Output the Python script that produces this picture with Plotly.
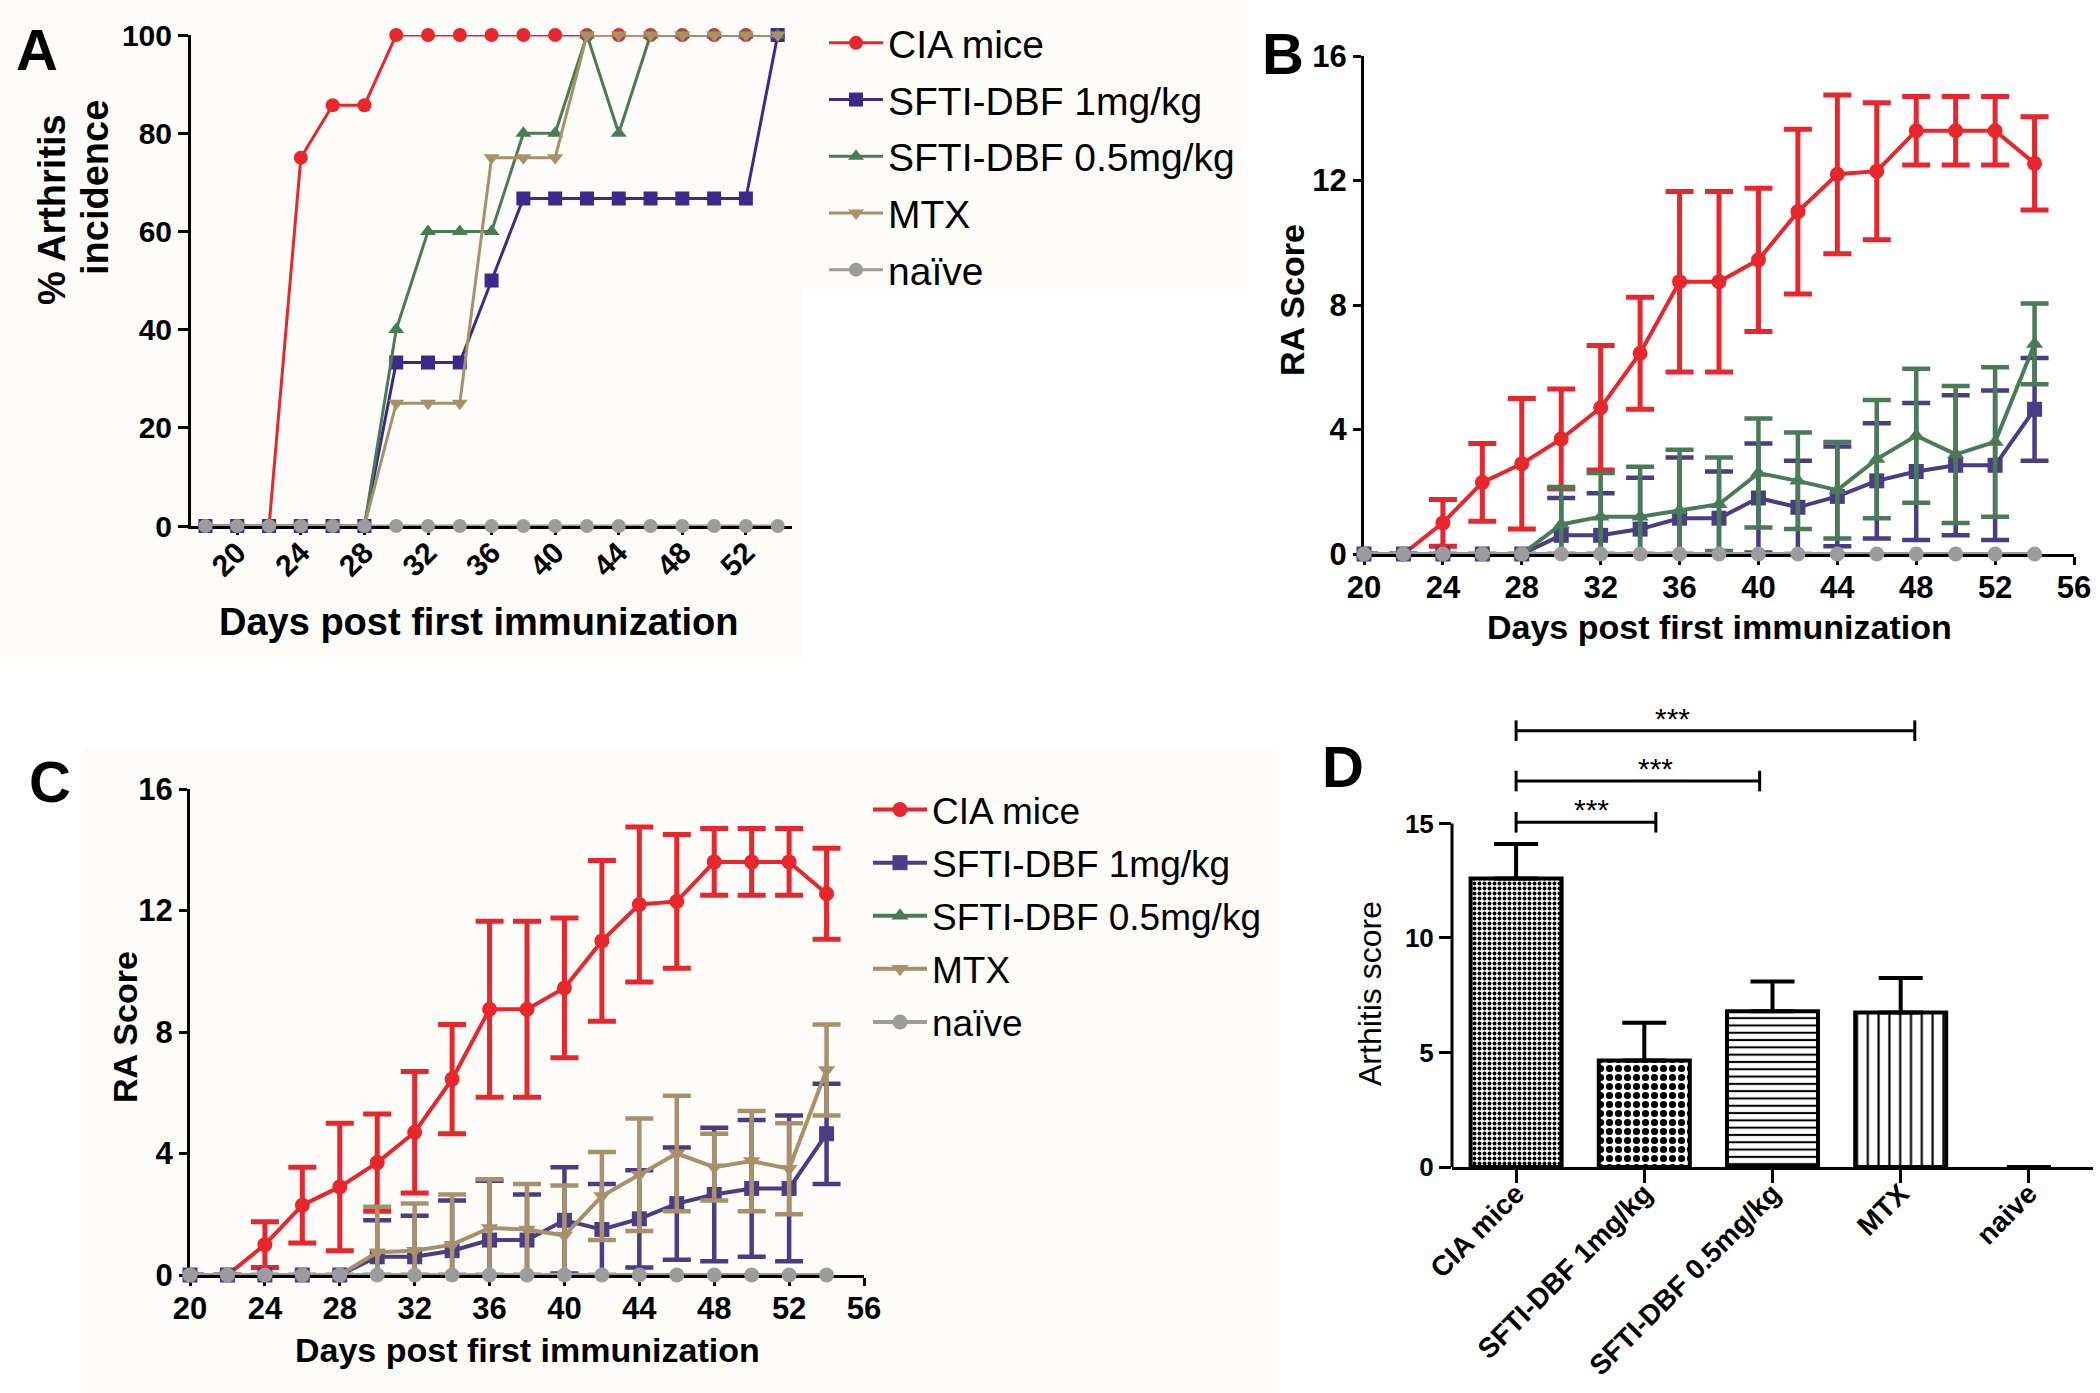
import plotly.graph_objects as go

W, H = 2100, 1393
FONT = "Liberation Sans, Arial, Helvetica, sans-serif"

# ---------------- data ----------------
groups = ["CIA mice", "SFTI-DBF 1mg/kg", "SFTI-DBF 0.5mg/kg", "MTX", "naïve"]

# Panel A: % arthritis incidence
days_a = [18, 20, 22, 24, 26, 28, 30, 32, 34, 36, 38, 40, 42, 44, 46, 48, 50, 52, 54]
inc_cia = [0, 0, 0, 75, 85.7, 85.7, 100, 100, 100, 100, 100, 100, 100, 100, 100, 100, 100, 100, 100]
inc_sfti1 = [0, 0, 0, 0, 0, 0, 33.3, 33.3, 33.3, 50, 66.7, 66.7, 66.7, 66.7, 66.7, 66.7, 66.7, 66.7, 100]
inc_sfti05 = [0, 0, 0, 0, 0, 0, 40, 60, 60, 60, 80, 80, 100, 80, 100, 100, 100, 100, 100]
inc_mtx = [0, 0, 0, 0, 0, 0, 25, 25, 25, 75, 75, 75, 100, 100, 100, 100, 100, 100, 100]
inc_naive = [0, 0, 0, 0, 0, 0, 0, 0, 0, 0, 0, 0, 0, 0, 0, 0, 0, 0, 0]
a_ticks = [20, 24, 28, 32, 36, 40, 44, 48, 52]
a_yticks = [0, 20, 40, 60, 80, 100]

# Panels B and C: RA score, mean and SEM
days_bc = [20, 22, 24, 26, 28, 30, 32, 34, 36, 38, 40, 42, 44, 46, 48, 50, 52, 54]
ra_cia = [0, 0, 1.0, 2.3, 2.9, 3.7, 4.7, 6.45, 8.75, 8.75, 9.45, 11.0, 12.2, 12.3, 13.6, 13.6, 13.6, 12.55]
sem_cia = [0, 0, 0.75, 1.25, 2.1, 1.6, 2.0, 1.8, 2.9, 2.9, 2.3, 2.65, 2.55, 2.2, 1.1, 1.1, 1.1, 1.5]
ra_sfti1 = [0, 0, 0, 0, 0, 0.6, 0.6, 0.8, 1.15, 1.15, 1.8, 1.5, 1.85, 2.35, 2.65, 2.85, 2.85, 4.65]
sem_sfti1 = [0, 0, 0, 0, 0, 1.2, 1.35, 1.65, 1.95, 1.5, 1.75, 1.5, 1.6, 1.85, 2.2, 2.25, 2.4, 1.65]
ra_sfti05 = [0, 0, 0, 0, 0, 0.95, 1.2, 1.2, 1.4, 1.6, 2.6, 2.35, 2.05, 3.05, 3.8, 3.2, 3.6, 6.75]
sem_sfti05 = [0, 0, 0, 0, 0, 1.2, 1.4, 1.6, 1.95, 1.5, 1.75, 1.55, 1.55, 1.9, 2.15, 2.2, 2.4, 1.3]
ra_mtx = [0, 0, 0, 0, 0, 0.75, 0.8, 1.0, 1.55, 1.5, 1.3, 2.6, 3.3, 4.0, 3.55, 3.75, 3.5, 6.75]
sem_mtx = [0, 0, 0, 0, 0, 1.5, 1.55, 1.65, 1.6, 1.5, 1.65, 1.45, 1.85, 1.9, 1.1, 1.65, 1.5, 1.5]
ra_naive = [0, 0, 0, 0, 0, 0, 0, 0, 0, 0, 0, 0, 0, 0, 0, 0, 0, 0]
bc_xticks = [20, 24, 28, 32, 36, 40, 44, 48, 52, 56]
bc_yticks = [0, 4, 8, 12, 16]

# Panel D: arthritis score (mean and SEM)
bar_groups = ["CIA mice", "SFTI-DBF 1mg/kg", "SFTI-DBF 0.5mg/kg", "MTX", "naive"]
bar_mean = [12.6, 4.65, 6.8, 6.75, 0]
bar_sem = [1.5, 1.65, 1.3, 1.5, 0]
d_yticks = [0, 5, 10, 15]
sig_pairs = [(0, 1, "***"), (0, 2, "***"), (0, 3, "***")]

# ---------------- styles ----------------
colors_a = ["#e8262b", "#3b2a8c", "#4a7b57", "#a8916a", "#9c9c9c"]
colors_bc = ["#e8262b", "#4a3d86", "#4a7b57", "#a8916a", "#9c9c9c"]
symbols = ["circle", "square", "triangle-up", "triangle-down", "circle"]


def px_x(v):
    return v / W


def px_y(v):
    return 1 - v / H


fig = go.Figure()

# ---- Panel A ----
inc_all = [inc_cia, inc_sfti1, inc_sfti05, inc_mtx, inc_naive]
for i, (name, yv) in enumerate(zip(groups, inc_all)):
    fig.add_trace(go.Scatter(
        x=days_a, y=yv, mode="lines+markers", name=name,
        line=dict(color=colors_a[i], width=3),
        marker=dict(symbol=symbols[i], size=14, color=colors_a[i]),
        xaxis="x", yaxis="y", legend="legend", legendgroup=f"a{i}",
        cliponaxis=False))


def err(mean, sem, thick):
    return dict(type="data", symmetric=False, array=sem,
                arrayminus=[min(m, s) for m, s in zip(mean, sem)],
                thickness=thick, width=14)


# ---- Panel B ----
b_series = [(0, ra_cia, sem_cia), (1, ra_sfti1, sem_sfti1), (2, ra_sfti05, sem_sfti05)]
for i, m, s in b_series:
    fig.add_trace(go.Scatter(
        x=days_bc, y=m, mode="lines+markers", name=groups[i],
        line=dict(color=colors_bc[i], width=4),
        marker=dict(symbol=symbols[i], size=15, color=colors_bc[i]),
        error_y=dict(err(m, s, 5 if i == 0 else 4.5), color=colors_bc[i]),
        xaxis="x2", yaxis="y2", showlegend=False, cliponaxis=False))
fig.add_trace(go.Scatter(
    x=days_bc, y=ra_naive, mode="lines+markers", name=groups[4],
    line=dict(color=colors_bc[4], width=4),
    marker=dict(symbol="circle", size=15, color=colors_bc[4]),
    xaxis="x2", yaxis="y2", showlegend=False, cliponaxis=False))

# ---- Panel C ----
c_series = [(0, ra_cia, sem_cia), (1, ra_sfti1, sem_sfti1), (2, None, None), (3, ra_mtx, sem_mtx)]
for i, m, s in c_series:
    if m is None:
        fig.add_trace(go.Scatter(
            x=[None], y=[None], mode="lines+markers", name=groups[i],
            line=dict(color=colors_bc[i], width=4),
            marker=dict(symbol=symbols[i], size=15, color=colors_bc[i]),
            xaxis="x3", yaxis="y3", legend="legend2", legendgroup=f"c{i}"))
        continue
    fig.add_trace(go.Scatter(
        x=days_bc, y=m, mode="lines+markers", name=groups[i],
        line=dict(color=colors_bc[i], width=4),
        marker=dict(symbol=symbols[i], size=15, color=colors_bc[i]),
        error_y=dict(err(m, s, 5 if i == 0 else 4.5), color=colors_bc[i]),
        xaxis="x3", yaxis="y3", legend="legend2", legendgroup=f"c{i}",
        cliponaxis=False))
fig.add_trace(go.Scatter(
    x=days_bc, y=ra_naive, mode="lines+markers", name=groups[4],
    line=dict(color=colors_bc[4], width=4),
    marker=dict(symbol="circle", size=15, color=colors_bc[4]),
    xaxis="x3", yaxis="y3", legend="legend2", legendgroup="c4", cliponaxis=False))

# ---- Panel D ----
fig.add_trace(go.Bar(
    x=bar_groups, y=bar_mean, width=0.71, xaxis="x4", yaxis="y4", showlegend=False,
    marker=dict(color="white", line=dict(color="black", width=[4, 4, 4, 4, 0]),
                pattern=dict(shape=[".", ".", "-", "|", ""],
                             size=[5, 9, 7.3, 10.8, 8],
                             solidity=[0.5, 0.5, 0.28, 0.2, 0.2],
                             fgcolor="black", bgcolor="white", fillmode="replace")),
    error_y=dict(type="data", symmetric=False, array=bar_sem,
                 arrayminus=[0 for _ in bar_sem], color="black", thickness=4, width=22)))

# ---------------- axes ----------------
base = dict(showline=True, linecolor="black", linewidth=3, ticks="outside",
            tickcolor="black", tickwidth=3, showgrid=False, zeroline=False,
            layer="below traces", automargin=False)
tf = lambda s: dict(size=s, family=FONT, color="black", weight="bold")

fig.update_layout(
    xaxis=dict(base, domain=[px_x(191), px_x(792)], range=[17.09, 54.9],
               tickvals=a_ticks, tickangle=-45, ticklen=6, tickfont=tf(30),
               ticklabelstandoff=-12, anchor="y"),
    yaxis=dict(base, domain=[px_y(526), px_y(35)], range=[0, 100],
               tickvals=a_yticks, ticklen=10, tickfont=tf(30), anchor="x"),
    xaxis2=dict(base, domain=[px_x(1364), px_x(2074)], range=[20, 56],
                tickvals=bc_xticks, ticklen=8, tickfont=tf(31),
                ticklabelstandoff=-4, anchor="y2"),
    yaxis2=dict(base, domain=[px_y(554), px_y(56)], range=[0, 16],
                tickvals=bc_yticks, ticklen=8, tickfont=tf(31), anchor="x2"),
    xaxis3=dict(base, domain=[px_x(190), px_x(864)], range=[20, 56],
                tickvals=bc_xticks, ticklen=8, tickfont=tf(31),
                ticklabelstandoff=-4, anchor="y3"),
    yaxis3=dict(base, domain=[px_y(1275), px_y(789)], range=[0, 16],
                tickvals=bc_yticks, ticklen=8, tickfont=tf(31), anchor="x3"),
    xaxis4=dict(base, domain=[px_x(1452), px_x(2093)], type="category",
                tickangle=-45, ticklen=13, tickfont=tf(28), ticklabelstandoff=-17,
                anchor="y4"),
    yaxis4=dict(base, domain=[px_y(1167), px_y(686)], range=[0, 21], showline=False,
                tickvals=d_yticks, ticklen=12, tickfont=tf(26), anchor="x4"),
)

# ---------------- shapes ----------------
shapes = []
cream = "#fdfcf9"
for (x0, y0, x1, y1) in [(0, 0, 803, 663), (803, 0, 1245, 290), (83, 748, 1276, 1393)]:
    shapes.append(dict(type="rect", xref="paper", yref="paper", layer="below",
                       x0=px_x(x0), x1=px_x(x1), y0=px_y(y1), y1=px_y(y0),
                       fillcolor=cream, line=dict(width=0)))
# D y-axis line (0..15)
shapes.append(dict(type="line", xref="x4 domain", yref="y4", x0=0, x1=0, y0=0, y1=15,
                   line=dict(color="black", width=3)))
# significance brackets
bracket_y = [15.05, 16.85, 19.05]
bracket_end = [0.09, -0.1, 0.11]
star_x = [0.59, 1.09, 1.22]
cap = 0.45
annotations = []
for k, (a, b, lab) in enumerate(sig_pairs):
    yb = bracket_y[k]
    xb = b + bracket_end[k]
    for seg in [(a, yb, xb, yb), (a, yb - cap, a, yb + cap), (xb, yb - cap, xb, yb + cap)]:
        shapes.append(dict(type="line", xref="x4", yref="y4",
                           x0=seg[0], y0=seg[1], x1=seg[2], y1=seg[3],
                           line=dict(color="black", width=3)))
    annotations.append(dict(text=lab, xref="x4", yref="y4", x=star_x[k], y=yb + 0.55,
                            showarrow=False, xanchor="center", yanchor="middle",
                            font=dict(size=30, family=FONT, color="black")))


def ann(text, x, y, size, bold=True, angle=0):
    return dict(text=text, xref="paper", yref="paper", x=px_x(x), y=px_y(y),
                showarrow=False, xanchor="center", yanchor="middle", textangle=angle,
                font=dict(size=size, family=FONT, color="black",
                          weight="bold" if bold else "normal"))


annotations += [
    ann("A", 37, 50, 58), ann("B", 1283, 54, 58), ann("C", 50, 781, 58), ann("D", 1343, 767, 58),
    ann("% Arthritis", 52, 210, 38, angle=-90), ann("incidence", 95, 188, 38, angle=-90),
    ann("Days post first immunization", 478, 622, 38),
    ann("RA Score", 1292, 300, 34, angle=-90),
    ann("Days post first immunization", 1719, 627, 34),
    ann("RA Score", 125, 1027, 34, angle=-90),
    ann("Days post first immunization", 527, 1350, 34),
    ann("Arthitis score", 1370, 994, 32, bold=False, angle=-90),
]

fig.update_layout(
    width=W, height=H, margin=dict(l=0, r=0, t=0, b=0),
    paper_bgcolor="white", plot_bgcolor="rgba(0,0,0,0)",
    font=dict(family=FONT, color="black"),
    shapes=shapes, annotations=annotations,
    legend=dict(x=px_x(824), y=px_y(11), xanchor="left", yanchor="top",
                font=dict(size=39, family=FONT, color="black"),
                bgcolor="rgba(0,0,0,0)", tracegroupgap=3, itemwidth=54),
    legend2=dict(x=px_x(868), y=px_y(779), xanchor="left", yanchor="top",
                 font=dict(size=37, family=FONT, color="black"),
                 bgcolor="rgba(0,0,0,0)", tracegroupgap=2, itemwidth=54),
)

fig.write_html("out.html", config={"displayModeBar": False},
               post_script="document.body.style.margin='0';document.body.style.overflow='hidden';")
